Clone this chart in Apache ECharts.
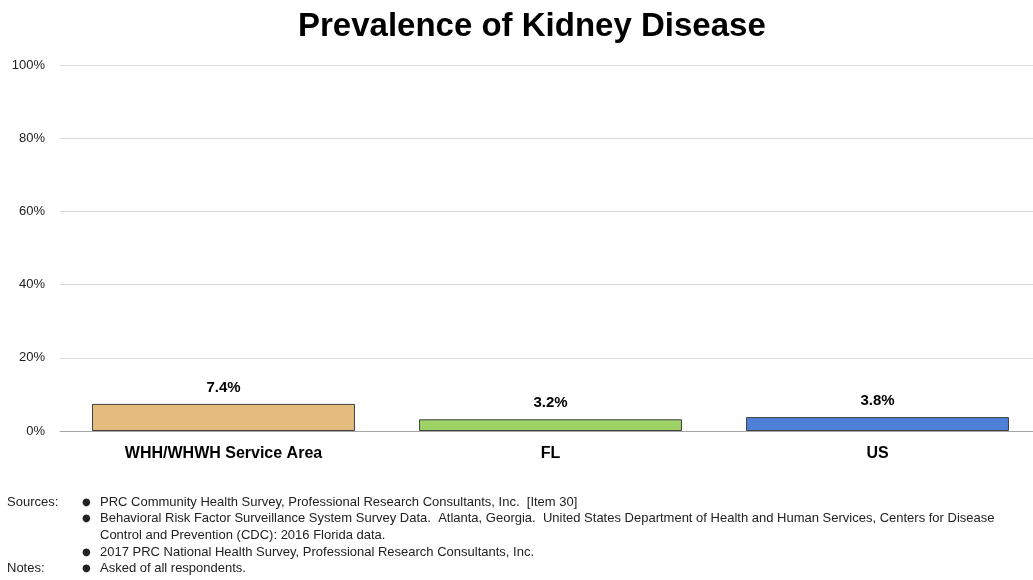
<!DOCTYPE html>
<html><head><meta charset="utf-8">
<script src="https://cdn.jsdelivr.net/npm/echarts@6/dist/echarts.min.js"></script>
<style>html,body{margin:0;padding:0;background:#fff}#c{width:1033px;height:580px}</style>
</head><body><div id="c"></div>
<script>
const titleText = 'Prevalence of Kidney Disease';
const categories = ['WHH/WHWH Service Area', 'FL', 'US'];
const values = [7.4, 3.2, 3.8];
const barColors = ['#E4BC7E', '#9FD264', '#4F80D7'];
const yTicks = [0, 20, 40, 60, 80, 100];
const footLines = [
  {label: 'Sources:', bullet: true, text: 'PRC Community Health Survey, Professional Research Consultants, Inc.  [Item 30]'},
  {label: '', bullet: true, text: 'Behavioral Risk Factor Surveillance System Survey Data.  Atlanta, Georgia.  United States Department of Health and Human Services, Centers for Disease'},
  {label: '', bullet: false, text: 'Control and Prevention (CDC): 2016 Florida data.'},
  {label: '', bullet: true, text: '2017 PRC National Health Survey, Professional Research Consultants, Inc.'},
  {label: 'Notes:', bullet: true, text: 'Asked of all respondents.'}
];
const footY = [502, 518, 535, 552, 568];
const footFont = '"Liberation Sans", Arial, sans-serif';

const chart = echarts.init(document.getElementById('c'));
const graphics = [];
footLines.forEach((l, i) => {
  if (l.label) graphics.push({type:'text', x: 7, y: footY[i], style:{text:l.label, fill:'#222', font:'13px ' + footFont, textVerticalAlign:'middle'}});
  if (l.bullet) graphics.push({type:'text', x: 82, y: footY[i], style:{text:'●', fill:'#222', font:'10px "DejaVu Sans", sans-serif', textVerticalAlign:'middle'}});
  graphics.push({type:'text', x: 100, y: footY[i], style:{text:l.text, fill:'#222', font:'13px ' + footFont, textVerticalAlign:'middle'}});
});

chart.setOption({
  animation: false,
  title: {text: titleText, left: 293, top: 5,
    textStyle: {fontFamily: '"Liberation Sans", Arial, sans-serif', fontWeight: 'bold', fontSize: 33, color: '#000'}},
  grid: {left: 60, width: 981, top: 65, bottom: 149, containLabel: false, outerBoundsMode: 'none'},
  xAxis: {type: 'category', data: categories,
    axisLine: {lineStyle: {color: '#A6A6A6', width: 1}}, axisTick: {show: false},
    axisLabel: {color: '#000', fontWeight: 'bold', fontSize: 16, fontFamily: '"Liberation Sans", Arial, sans-serif', margin: 15}},
  yAxis: {type: 'value', min: 0, max: 100, interval: 20,
    axisLabel: {formatter: v => yTicks.includes(v) ? v + '%' : '', color: '#222', fontSize: 13, fontFamily: '"Liberation Sans", Arial, sans-serif', margin: 15},
    axisLine: {show: false}, axisTick: {show: false},
    splitLine: {lineStyle: {color: '#D9D9D9', width: 1}}},
  series: [{type: 'bar', barWidth: '80.4%',
    data: values.map((v, i) => ({value: v, itemStyle: {color: barColors[i]}})),
    itemStyle: {borderColor: '#404040', borderWidth: 1},
    label: {show: true, position: 'top', distance: 9, formatter: p => p.value.toFixed(1) + '%',
      color: '#000', fontWeight: 'bold', fontSize: 15, fontFamily: '"Liberation Sans", Arial, sans-serif'}}],
  graphic: graphics
});
</script></body></html>
